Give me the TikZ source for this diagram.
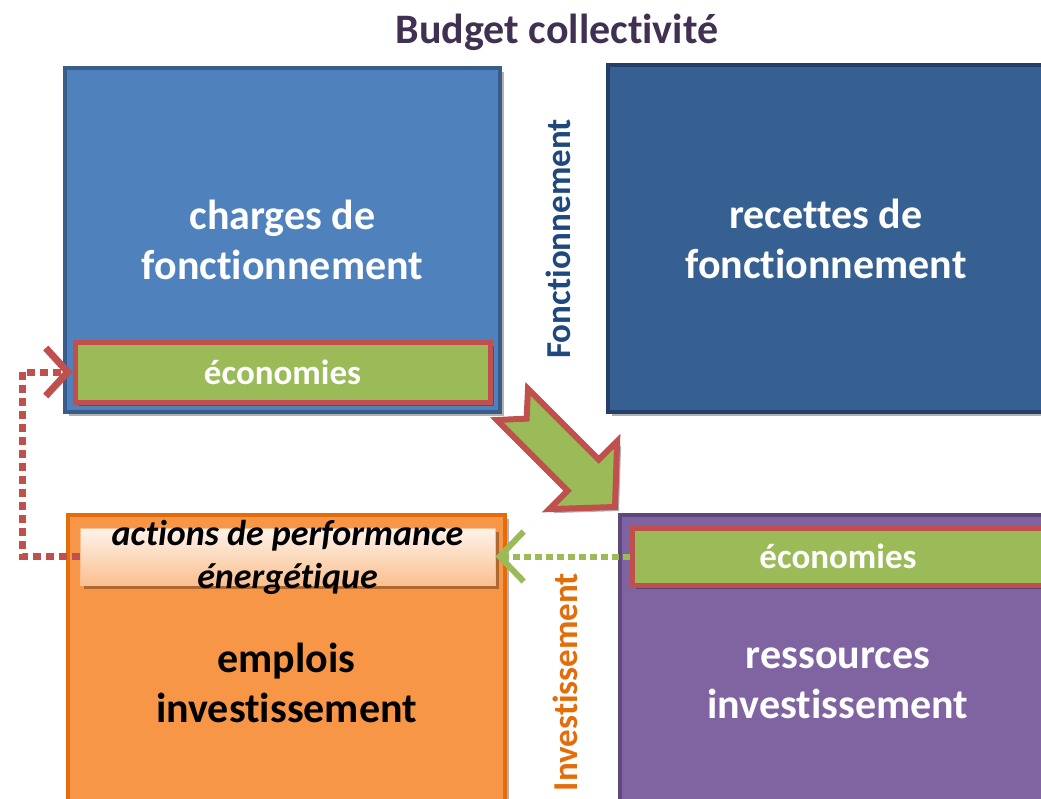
\documentclass[tikz,border=0pt]{standalone}
\usepackage{fontspec}
\setmainfont{Carlito}[Ligatures=NoCommon]
\usetikzlibrary{arrows.meta,shadows}

\definecolor{chgblue}{HTML}{4F81BD}
\definecolor{chgedge}{HTML}{385D8A}
\definecolor{recblue}{HTML}{376092}
\definecolor{recedge}{HTML}{24406A}
\definecolor{empor}{HTML}{F79646}
\definecolor{emporedge}{HTML}{E46C0A}
\definecolor{respur}{HTML}{8064A2}
\definecolor{respuredge}{HTML}{5F497A}
\definecolor{ecogreen}{HTML}{9BBB59}
\definecolor{ecored}{HTML}{C0504D}
\definecolor{titlecol}{HTML}{403152}
\definecolor{foncol}{HTML}{1F497D}
\definecolor{invcol}{HTML}{E46C0A}
\definecolor{acttop}{HTML}{FEF3EA}
\definecolor{actbot}{HTML}{FAC090}

\tikzset{
  softshadow/.style={drop shadow={shadow xshift=4pt, shadow yshift=-4pt, opacity=.3, fill=black}},
  bigbox/.style={draw, line width=3.5pt, inner sep=0pt, align=center, text=white,
    font=\bfseries\fontsize{42}{50}\selectfont, softshadow},
  ecobar/.style={draw=ecored, fill=ecogreen, line width=5pt, inner sep=0pt,
    text=white, font=\bfseries\fontsize{35}{42}\selectfont, softshadow},
  sidelabel/.style={rotate=90, font=\bfseries\fontsize{35}{42}\selectfont},
  reddash/.style={draw=ecored, line width=7pt, dash pattern=on 8pt off 5pt,
    -{Straight Barb[length=22pt,width=48pt]}},
  greendash/.style={draw=ecogreen, line width=6pt, dash pattern=on 7pt off 4pt,
    -{Straight Barb[length=24pt,width=50pt]}},
  bigarrow/.style={draw=ecored, fill=ecogreen, line width=6pt, line join=miter, softshadow}
}

\begin{document}
\begin{tikzpicture}[x=1pt, y=-1pt]
\useasboundingbox (0,0) rectangle (1041,798);
\clip (0,0) rectangle (1041,798);

% title
\node[text=titlecol, font=\bfseries\fontsize{42}{50}\selectfont] (title) at (557,32) {Budget collectivité};

% four budget blocks
\node[bigbox, fill=chgblue, draw=chgedge, minimum width=435pt, minimum height=344pt]
  (chg) at (282.5,240) {charges de\\fonctionnement};
\node[bigbox, fill=recblue, draw=recedge, minimum width=436pt, minimum height=347pt]
  (rec) at (826,238.5) {recettes de\\fonctionnement};
\node[bigbox, fill=empor, draw=emporedge, text=black, minimum width=437pt, minimum height=336pt]
  (emp) at (286.5,683) {emplois\\investissement};
\node[bigbox, fill=respur, draw=respuredge, minimum width=436pt, minimum height=336pt]
  (res) at (838,683) {ressources\\investissement};

% side labels
\node[sidelabel, text=foncol] (fonc) at (558,239) {Fonctionnement};
\node[sidelabel, text=invcol] (inv) at (565,682) {Investissement};

% savings bars and action bar
\node[ecobar, minimum width=415pt, minimum height=60pt] (eco1) at (282.5,372) {économies};
\node[ecobar, minimum width=412pt, minimum height=57pt] (eco2) at (838,556.5) {économies};
\node[draw=empor!60, line width=1pt, top color=acttop, bottom color=actbot,
  minimum width=415pt, minimum height=57pt, inner sep=0pt, softshadow] (actbar) at (287.5,556.5) {};
\node[font=\bfseries\itshape\fontsize{36}{43}\selectfont, align=center, text=black]
  (acttext) at (287.5,557) {actions de performance\\énergétique};

% dotted feedback loops
\coordinate (lane) at (22,460);
\draw[reddash] (actbar.west) -| (lane) |- (eco1.west);
\draw[greendash] (eco2.west) -- (actbar.east);

% transfer arrow from operating to investment section
\begin{scope}[shift={(615,507)}, rotate=-45]
  \draw[bigarrow] (0,0) -- (-45,-48) -- (-45,-22) -- (-145,-22) -- (-125,0)
    -- (-145,22) -- (-45,22) -- (-45,48) -- cycle;
\end{scope}
\end{tikzpicture}
\end{document}
